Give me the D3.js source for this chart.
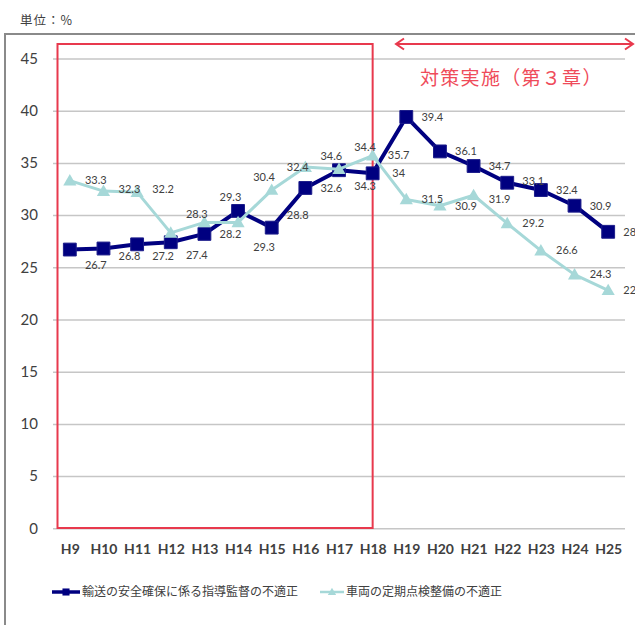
<!DOCTYPE html>
<html>
<head>
<meta charset="utf-8">
<script src="https://cdn.jsdelivr.net/npm/d3@7"></script>
<style>
  body { margin: 0; background: #fff; }
  svg { display: block; }
</style>
</head>
<body>
<svg id="chart" width="635" height="625"></svg>
<script>
// Fiscal years (Heisei)
const categories = ["H9", "H10", "H11", "H12", "H13", "H14", "H15", "H16", "H17",
                    "H18", "H19", "H20", "H21", "H22", "H23", "H24", "H25"];

// 輸送の安全確保に係る指導監督の不適正 (%)
const guidanceValues = [26.7, 26.8, 27.2, 27.4, 28.2, 30.4, 28.8, 32.6, 34.3,
                        34, 39.4, 36.1, 34.7, 33.1, 32.4, 30.9, 28.4];

// 車両の定期点検整備の不適正 (%)
const inspectionValues = [33.3, 32.3, 32.2, 28.3, 29.3, 29.3, 32.4, 34.6, 34.4,
                          35.7, 31.5, 30.9, 31.9, 29.2, 26.6, 24.3, 22.8];

const yTicks = [0, 5, 10, 15, 20, 25, 30, 35, 40, 45];

const seriesNames = ["輸送の安全確保に係る指導監督の不適正", "車両の定期点検整備の不適正"];

// Vertical nudges (px) for data labels that were moved off crowded points
const guidanceLabelDy = [16, 8, 12, 13, 0, -34, -12, 0, 16, 0, 0, 0, 0, -2, 0, 0, 0];
const inspectionLabelDy = [0, -2, -3, -19, -25, 25, -23, -11, -22, 0, 0, 0, 4, 0, 0, 0, 0];

const svg = d3.select("#chart");
const NAVY = "#000080";
const TEAL = "#a6d8d8";
const RED = "#e8394d";
const TEXT = "#404040";
const NUM_FONT = "Lato, 'Open Sans', sans-serif";
const JP_FONT = "'Noto Sans CJK JP', 'Noto Sans', sans-serif";

svg.append("rect").attr("width", 635).attr("height", 625).attr("fill", "#fff");

// unit caption
svg.append("text")
  .attr("x", 20).attr("y", 25)
  .attr("font-family", JP_FONT).attr("font-size", 12.5)
  .attr("letter-spacing", 1)
  .attr("fill", TEXT)
  .text("単位：%");

// outer chart frame
svg.append("rect")
  .attr("x", 5).attr("y", 34).attr("width", 640).attr("height", 610)
  .attr("fill", "none").attr("stroke", "#8a8a8a").attr("stroke-width", 2);

const plotLeft = 53, plotRight = 625;
const x = d3.scalePoint().domain(categories).range([plotLeft, plotRight]).padding(0.5);
const y = d3.scaleLinear().domain([0, 45]).range([528.3, 58.5]);

// gridlines + y tick labels
const yAxis = svg.append("g")
  .attr("transform", `translate(${plotLeft},0)`)
  .call(d3.axisLeft(y).tickValues(yTicks).tickSize(-(plotRight - plotLeft)).tickPadding(15).tickFormat(d3.format("d")));
yAxis.select(".domain").remove();
yAxis.selectAll(".tick line").attr("stroke", "#c6c6c6").attr("stroke-width", 1.5);
yAxis.selectAll(".tick text")
  .attr("font-family", NUM_FONT).attr("font-size", 15).attr("fill", TEXT);

// x axis category labels
const xAxis = svg.append("g")
  .attr("transform", "translate(0,544)")
  .call(d3.axisBottom(x).tickSize(0).tickPadding(0));
xAxis.select(".domain").remove();
xAxis.selectAll(".tick text")
  .attr("font-family", NUM_FONT).attr("font-size", 14).attr("font-weight", 700)
  .attr("fill", TEXT).attr("dy", "0.71em");

// red frame around the period before the measures
svg.append("rect")
  .attr("x", 57.5).attr("y", 44).attr("width", x("H18") - 57.5).attr("height", 484)
  .attr("fill", "none").attr("stroke", RED).attr("stroke-width", 2);

// double-headed arrow marking the period of the measures
const arrow = svg.append("g").attr("stroke", RED).attr("stroke-width", 2).attr("fill", "none");
arrow.append("line").attr("x1", 396).attr("y1", 44).attr("x2", 633).attr("y2", 44);
arrow.append("path").attr("d", "M404,38.5 L396,44 L404,49.5");
arrow.append("path").attr("d", "M625,38.5 L633,44 L625,49.5");
svg.append("text")
  .attr("x", 420).attr("y", 85)
  .attr("font-family", JP_FONT).attr("font-size", 19)
  .attr("letter-spacing", 1.3)
  .attr("fill", "#ef4b5a")
  .text("対策実施（第３章）");

// series lines and markers
const line = d3.line().x((d, i) => x(categories[i])).y(d => y(d));

svg.append("path").datum(guidanceValues)
  .attr("d", line).attr("fill", "none")
  .attr("stroke", NAVY).attr("stroke-width", 4).attr("stroke-linejoin", "round");
svg.append("g").selectAll("path").data(guidanceValues).join("path")
  .attr("transform", (d, i) => `translate(${x(categories[i])},${y(d)})`)
  .attr("d", d3.symbol(d3.symbolSquare, 165))
  .attr("fill", NAVY).attr("stroke", "#1c1c8a").attr("stroke-width", 1);

svg.append("path").datum(inspectionValues)
  .attr("d", line).attr("fill", "none")
  .attr("stroke", TEAL).attr("stroke-width", 3).attr("stroke-linejoin", "round");
svg.append("g").selectAll("path").data(inspectionValues).join("path")
  .attr("transform", (d, i) => `translate(${x(categories[i])},${y(d) + 1})`)
  .attr("d", d3.symbol(d3.symbolTriangle, 75))
  .attr("fill", TEAL);

// data labels, to the right of each point
function labels(values, dys) {
  svg.append("g").selectAll("text").data(values).join("text")
    .attr("x", (d, i) => x(categories[i]) + 26)
    .attr("y", (d, i) => y(d) + dys[i])
    .attr("dy", "0.35em")
    .attr("text-anchor", "middle")
    .attr("font-family", NUM_FONT).attr("font-size", 11)
    .attr("fill", TEXT)
    .text(d => d);
}
labels(guidanceValues, guidanceLabelDy);
labels(inspectionValues, inspectionLabelDy);

// legend
const legend = svg.append("g").attr("transform", "translate(0,592)");
legend.append("line").attr("x1", 52).attr("x2", 80).attr("stroke", NAVY).attr("stroke-width", 3.5);
legend.append("path").attr("transform", "translate(66,0)")
  .attr("d", d3.symbol(d3.symbolSquare, 50)).attr("fill", NAVY);
legend.append("text").attr("x", 82).attr("dy", "0.36em")
  .attr("font-family", JP_FONT).attr("font-size", 12).attr("fill", TEXT)
  .text(seriesNames[0]);
legend.append("line").attr("x1", 320).attr("x2", 344).attr("stroke", TEAL).attr("stroke-width", 2.5);
legend.append("path").attr("transform", "translate(332,0.5)")
  .attr("d", d3.symbol(d3.symbolTriangle, 30)).attr("fill", TEAL);
legend.append("text").attr("x", 346).attr("dy", "0.36em")
  .attr("font-family", JP_FONT).attr("font-size", 12).attr("fill", TEXT)
  .text(seriesNames[1]);
</script>
</body>
</html>
